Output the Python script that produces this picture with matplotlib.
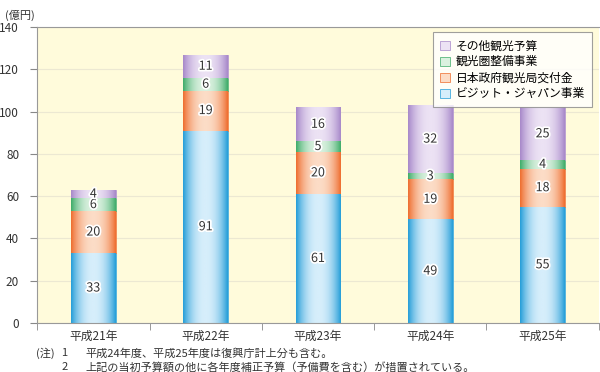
import numpy as np
import matplotlib.pyplot as plt
import matplotlib.patheffects as pe
from matplotlib.colors import LinearSegmentedColormap

plt.rcParams['font.family'] = ['Noto Sans CJK JP', 'DejaVu Sans']

years = ['平成21年', '平成22年', '平成23年', '平成24年', '平成25年']
names = ['ビジット・ジャパン事業', '日本政府観光局交付金', '観光圏整備事業', 'その他観光予算']
vj = [33, 91, 61, 49, 55]
jnto = [20, 19, 20, 19, 18]
kankoken = [6, 6, 5, 3, 4]
other = [4, 11, 16, 32, 25]
series = [vj, jnto, kankoken, other]

# edge colour, centre colour
cols = [('#1f9bd7', '#d6eefb'),
        ('#ee6a2a', '#fcdcc6'),
        ('#3aaa66', '#daf1df'),
        ('#a585c8', '#ece2f4')]

fig = plt.figure(figsize=(6, 3.72), dpi=100)
ax = fig.add_axes([0.062, 0.132, 0.936, 0.795])
ax.set_facecolor('#fffbdb')

x = np.arange(len(years))
w = 0.4
prof = np.linspace(-1, 1, 64)
prof = np.abs(prof) ** 2.2
bottom = np.zeros(len(years))
for vals, (ec, cc), nm in zip(series, cols, names):
    cmap = LinearSegmentedColormap.from_list('g', [cc, ec])
    bars = ax.bar(x, vals, w, bottom=bottom, color=cc, edgecolor=ec, lw=0.5, zorder=2, label=nm)
    for b, v, bt, xi in zip(bars, vals, bottom, x):
        im = ax.imshow(prof[None, :], cmap=cmap, vmin=0, vmax=1.05, aspect='auto',
                       extent=(xi - w / 2, xi + w / 2, bt, bt + v), zorder=2.5)
        im.set_clip_path(b)
        ax.text(xi, bt + v / 2, str(v), ha='center', va='center', fontsize=9, color='#333333',
                zorder=4, path_effects=[pe.withStroke(linewidth=2.5, foreground='white')])
    bottom = bottom + np.array(vals)

ax.set_xlim(-0.5, len(years) - 0.5)
ax.set_ylim(0, 140)
ax.set_yticks(np.arange(0, 141, 20))
ax.set_xticks(x)
ax.set_xticklabels(years, fontsize=8.5, color='#333333')
ax.set_xticks(np.arange(-0.5, len(years), 1), minor=True)
ax.tick_params(axis='x', which='major', length=0, pad=5)
ax.tick_params(axis='x', which='minor', length=5, color='#888888')
ax.tick_params(axis='y', length=5, color='#888888', labelsize=8.5, labelcolor='#333333', pad=8)
ax.grid(axis='y', color='#ece8d2', lw=0.8, zorder=1)
ax.set_axisbelow(True)
for s in ['left', 'bottom', 'top']:
    ax.spines[s].set_color('#999999')
    ax.spines[s].set_linewidth(0.8)
ax.spines['right'].set_visible(False)

h, l = ax.get_legend_handles_labels()
leg = ax.legend(h[::-1], l[::-1], loc='upper right', bbox_to_anchor=(0.988, 0.983), fontsize=8.5,
                frameon=True, fancybox=False, edgecolor='#888888', handlelength=0.8,
                handleheight=0.8, handletextpad=0.5, labelspacing=0.25, borderpad=0.6,
                borderaxespad=0)
leg.get_frame().set_linewidth(0.8)

fig.text(0.008, 0.975, '(億円)', fontsize=8, color='#333333', va='top')
fig.text(0.060, 0.051, '(注)', fontsize=8, color='#333333', va='center')
fig.text(0.102, 0.051, '1', fontsize=8, color='#333333', va='center')
fig.text(0.142, 0.051, '平成24年度、平成25年度は復興庁計上分も含む。', fontsize=8, color='#333333', va='center')
fig.text(0.102, 0.013, '2', fontsize=8, color='#333333', va='center')
fig.text(0.142, 0.013, '上記の当初予算額の他に各年度補正予算（予備費を含む）が措置されている。', fontsize=8,
         color='#333333', va='center')

fig.savefig('out.png', dpi=100)
